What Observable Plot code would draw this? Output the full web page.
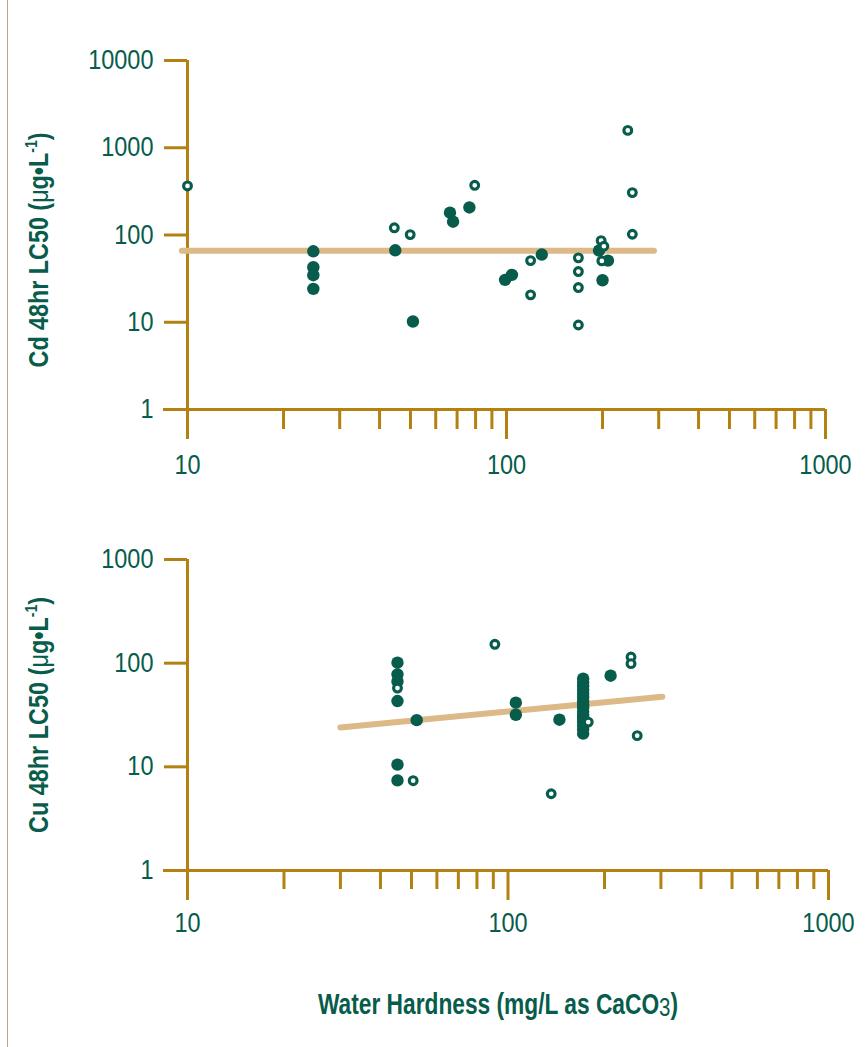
<!DOCTYPE html>
<html><head><meta charset="utf-8">
<script src="https://cdn.jsdelivr.net/npm/d3@7"></script>
<script src="https://cdn.jsdelivr.net/npm/@observablehq/plot@0.6"></script>
<style>
body{margin:0;background:#fff;}
#wrap{position:relative;width:866px;height:1047px;overflow:hidden;font-family:"Liberation Sans",Arial,sans-serif;color:#075c4b;}
#border{position:absolute;left:7px;top:0;width:1px;height:1047px;background:#bfa57a;}
.p{position:absolute;left:0;}
.ytitle{position:absolute;white-space:nowrap;font-weight:bold;font-size:28px;line-height:1;}
.ytitle .mu{font-weight:normal;}
.ytitle sup{font-size:0.6em;vertical-align:0.65em;line-height:0;}
#xtitle{position:absolute;left:498px;top:1004px;white-space:nowrap;font-weight:bold;font-size:29px;line-height:1;}
#xtitle sub{font-weight:normal;font-size:0.9em;vertical-align:-0.08em;line-height:0;}
</style></head>
<body>
<div id="wrap">
  <div id="border"></div>
  <div id="top" class="p" style="top:0"></div>
  <div id="bot" class="p" style="top:490px"></div>
  <div class="ytitle" id="cdTitle" style="left:39px;top:250px">Cd 48hr LC50 (<span class="mu">μ</span>g•L<sup>-1</sup>)</div>
  <div class="ytitle" id="cuTitle" style="left:39px;top:715px">Cu 48hr LC50 (<span class="mu">μ</span>g•L<sup>-1</sup>)</div>
  <div id="xtitle">Water Hardness (mg/L as CaCO<sub>3</sub>)</div>
</div>
<script>
// ---- data (hardness mg/L, LC50 µg/L) ----
const cdFilledHardness = [24.8, 24.8, 24.8, 24.8, 44.8, 50.9, 66.5, 68, 76.5, 99, 104, 129, 195, 208, 200];
const cdFilledLC50     = [65, 42.7, 34.6, 24.1, 66.8, 10.2, 180, 142, 207, 30.6, 34.9, 59.7, 66.3, 50.9, 30.3];
const cdOpenHardness   = [10, 44.5, 49.9, 79.5, 119, 119, 168, 168, 168, 168, 198, 202, 199, 240, 248, 248];
const cdOpenLC50       = [365, 121, 101, 371, 50.9, 20.6, 54.7, 38.1, 25, 9.3, 86.3, 74.3, 50.5, 1580, 306, 102];
const cdLineHardness   = [9.6, 290];
const cdLineLC50       = [66, 66];

const cuFilledHardness = [45.2, 45.2, 45.2, 45.2, 45.2, 45.2, 51.9, 105.8, 105.8, 144.7, 209,
  171.6, 171.6, 171.6, 171.6, 171.6, 171.6, 171.6, 171.6, 171.6, 171.6, 171.6, 171.6, 171.6, 171.6, 171.6, 171.6];
const cuFilledLC50     = [101, 78, 66.7, 43.1, 10.5, 7.4, 28.2, 41.6, 31.8, 28.5, 75.7,
  70.8, 65, 60, 55, 51, 47, 43, 40, 37, 34, 31, 29, 27, 25, 23, 20.9];
const cuOpenHardness   = [45.2, 50.6, 91, 136.4, 178, 242, 242, 253];
const cuOpenLC50       = [57.5, 7.35, 152, 5.5, 27, 114.6, 98.9, 20];
const cuLineHardness   = [30, 303];
const cuLineLC50       = [24, 47.5];

const xMajorTicks = [10, 100, 1000];
const xMinorTicks = [20, 30, 40, 50, 60, 70, 80, 90, 200, 300, 400, 500, 600, 700, 800, 900];
const cdYTicks = [1, 10, 100, 1000, 10000];
const cuYTicks = [1, 10, 100, 1000];

const GREEN = "#075c4b", GOLD = "#b38112", TAN = "#dcb987";
const FONT = '"Liberation Sans",Arial,sans-serif';

const pts = (xs, ys) => xs.map((x, i) => ({x, y: ys[i]}));

function panel({height, mt, mb, mr, ydom, yticks, filled, open, line, majorLen, minorLen, pad}) {
  return Plot.plot({
    width: 866, height,
    marginLeft: 187, marginRight: mr, marginTop: mt, marginBottom: mb,
    x: {type: "log", domain: [10, 1000]},
    y: {type: "log", domain: ydom},
    style: {fontFamily: FONT, fontSize: "27px", color: GREEN, background: "transparent", overflow: "visible"},
    marks: [
      Plot.ruleY([ydom[0]], {stroke: GOLD, strokeWidth: 3, insetLeft: -24}),
      Plot.ruleX([10], {stroke: GOLD, strokeWidth: 3, insetBottom: -majorLen}),
      Plot.axisY(yticks, {tickSize: 23, tickPadding: 11, tickFormat: d => String(d), stroke: GOLD, strokeWidth: 3, fill: GREEN, fontSize: 27, fontFamily: FONT, label: null}),
      Plot.axisX(xMinorTicks, {tickSize: minorLen, tickFormat: () => "", stroke: GOLD, strokeWidth: 3, label: null}),
      Plot.axisX(xMajorTicks, {tickSize: majorLen, tickPadding: pad, tickFormat: d => String(d), stroke: GOLD, strokeWidth: 3, fill: GREEN, fontSize: 27, fontFamily: FONT, label: null}),
      Plot.line(line, {x: "x", y: "y", stroke: TAN, strokeWidth: 6}),
      Plot.dot(filled, {x: "x", y: "y", r: 6.2, fill: GREEN, stroke: "none"}),
      Plot.dot(open, {x: "x", y: "y", r: 3.9, fill: "white", stroke: GREEN, strokeWidth: 3.1})
    ]
  });
}

document.getElementById("top").append(panel({
  height: 490, mt: 60, mb: 81, mr: 41, ydom: [1, 10000], yticks: cdYTicks,
  filled: pts(cdFilledHardness, cdFilledLC50), open: pts(cdOpenHardness, cdOpenLC50),
  line: pts(cdLineHardness, cdLineLC50), majorLen: 30, minorLen: 20, pad: 15
}));
document.getElementById("bot").append(panel({
  height: 460, mt: 69, mb: 80, mr: 38, ydom: [1, 1000], yticks: cuYTicks,
  filled: pts(cuFilledHardness, cuFilledLC50), open: pts(cuOpenHardness, cuOpenLC50),
  line: pts(cuLineHardness, cuLineLC50), majorLen: 30, minorLen: 19, pad: 12
}));

// condensed look: compress tick labels horizontally
document.querySelectorAll("#wrap svg text").forEach(t => {
  const w = t.getComputedTextLength();
  if (w > 0) {
    t.setAttribute("textLength", (w * 0.87).toFixed(2));
    t.setAttribute("lengthAdjust", "spacingAndGlyphs");
  }
});
// condensed look for titles: scale along text direction to the reference lengths
function fit(el, target, rotate) {
  const s = target / el.offsetWidth;
  el.style.transform = "translate(-50%,-50%)" + (rotate ? " rotate(-90deg)" : "") + " scaleX(" + s.toFixed(3) + ")";
}
fit(document.getElementById("cdTitle"), 235, true);
fit(document.getElementById("cuTitle"), 236, true);
fit(document.getElementById("xtitle"), 360, false);
</script>
</body></html>
